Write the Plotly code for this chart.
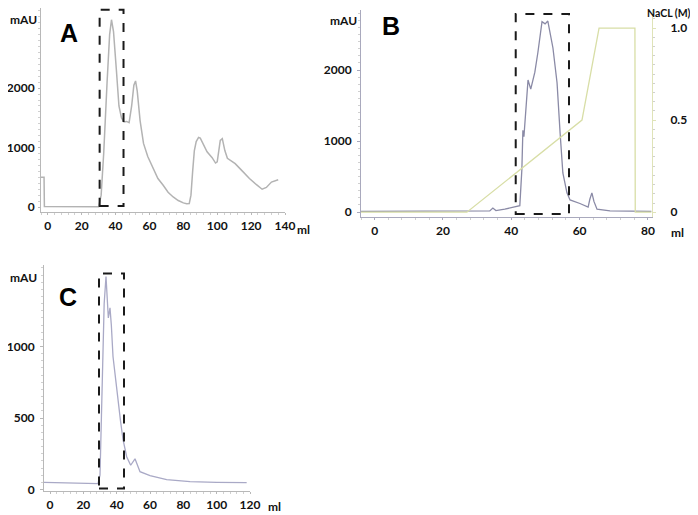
import plotly.graph_objects as go

# ---------------- Data ----------------
# Panel A (UV absorbance, mAU vs ml)
a_ml = [-4, -2.2, -2, 10, 20, 30, 31.5, 33, 35, 36.5, 37.6, 38.8, 40.5, 42, 43.5, 45, 46.5, 48,
        49.5, 50.8, 51.8, 52.8, 54.5, 56.5, 59, 62, 65, 68, 71, 74, 77, 80, 82, 83.5, 84.5, 85.5,
        86.5, 87.6, 89, 90, 91.5, 94, 97, 99, 100, 101, 101.8, 103, 104.5, 106, 108, 110.6, 115,
        119, 123, 126.5, 129, 132, 136]
a_mau = [500, 500, 10, 8, 5, 5, 200, 900, 2100, 2900, 3150, 2950, 2300, 1700, 1500, 1430, 1440, 1420,
         1700, 2050, 2120, 1950, 1450, 1070, 850, 670, 480, 370, 250, 170, 110, 70, 55, 60, 200, 600,
         950, 1100, 1170, 1160, 1080, 930, 830, 740, 760, 1000, 1120, 1150, 950, 820, 780, 730, 600,
         480, 380, 300, 330, 420, 460]
a_box = [30.6, 44.7, 17, 3317]  # x0, x1, y0, y1

# Panel B (UV + NaCl gradient)
b_ml = [-4, 29.3, 33.7, 34.6, 35.5, 38.1, 41.1, 42.5, 43.1, 43.4, 43.7, 44.3, 44.9, 45.7, 46.9, 47.8,
        49.0, 49.9, 50.7, 52.2, 53.4, 54.3, 55.1, 56.3, 57.2, 60.1, 62.5, 63.0, 63.6, 64.2, 65.1,
        68.9, 81]
b_mau = [10, 10, 15, 55, 20, 40, 70, 90, 600, 1150, 1060, 1400, 1860, 1730, 1970, 2250, 2680, 2650,
         2690, 2310, 1820, 1110, 550, 270, 170, 120, 70, 180, 270, 150, 40, 15, 10]
b_nacl_ml = [-4, 27, 60.7, 65.7, 76.2, 76.3, 81]
b_nacl = [0, 0, 0.5, 1.0, 1.0, 0, 0]
b_box = [41.3, 56.9, -28, 2790]

# Panel C
c_ml = [-3.6, 10, 20, 28.8, 30, 31, 32.5, 33.6, 34.3, 35, 36, 36.8, 37.8, 39.3, 40.8, 42.3, 43.8, 46,
        48.4, 51, 54, 60, 70, 84, 100, 118]
c_mau = [50, 48, 45, 42, 100, 600, 1300, 1490, 1350, 1200, 1270, 1150, 930, 770, 630, 480, 350, 230,
         170, 215, 125, 97, 70, 55, 50, 48]
c_box = [29.4, 44.4, 7, 1510]

a_ticks = [0, 20, 40, 60, 80, 100, 120, 140]
b_ticks = [0, 20, 40, 60, 80]
c_ticks = [0, 20, 40, 60, 80, 100, 120]

# ---------------- Figure ----------------
# page body has an 8px default margin, so the figure is sized to fit the window exactly
OFF = 8
W, H = 698 - OFF, 515 - OFF


def px_x(p):
    return (p - OFF) / W


def px_y(p):
    return 1 - (p - OFF) / H


tickfont = dict(family="Lato, 'Open Sans', sans-serif", size=12, color="#111", weight="bold")

fig = go.Figure()

fig.add_trace(go.Scatter(x=a_ml, y=a_mau, mode="lines", line=dict(color="#b3b3b3", width=1.5),
                         xaxis="x", yaxis="y", showlegend=False, hoverinfo="skip"))
fig.add_trace(go.Scatter(x=b_nacl_ml, y=b_nacl, mode="lines", line=dict(color="#d8dea6", width=1.3),
                         xaxis="x2", yaxis="y4", showlegend=False, hoverinfo="skip"))
fig.add_trace(go.Scatter(x=b_ml, y=b_mau, mode="lines", line=dict(color="#8a8aa6", width=1.3),
                         xaxis="x2", yaxis="y2", showlegend=False, hoverinfo="skip"))
fig.add_trace(go.Scatter(x=c_ml, y=c_mau, mode="lines", line=dict(color="#a9a9c6", width=1.3),
                         xaxis="x3", yaxis="y3", showlegend=False, hoverinfo="skip"))


def xaxis(dom, rng, ticks, anchor, color="#b8b8b8"):
    return dict(domain=dom, range=rng, anchor=anchor, showline=True, linecolor=color, linewidth=1,
                showgrid=False, zeroline=False, tickmode="array", tickvals=ticks, automargin=False,
                ticktext=[str(t) for t in ticks], ticks="outside", ticklen=2, tickcolor=color,
                tickfont=tickfont, ticklabelstandoff=1,
                minor=dict(ticks="outside", ticklen=2, dtick=4, tickcolor="#d0d0d0"))


def yaxis(dom, rng, ticks, texts, anchor, color="#b8b8b8", side="left", overlaying=None,
          minor_dtick=100, standoff=3, ticklen=3):
    d = dict(domain=dom, range=rng, anchor=anchor, showline=True, linecolor=color, linewidth=1,
             showgrid=False, zeroline=False, tickmode="array", tickvals=ticks, ticktext=texts,
             ticks="outside", ticklen=ticklen, tickcolor=color, tickfont=tickfont, side=side,
             ticklabelstandoff=standoff, automargin=False,
             minor=dict(ticks="outside", ticklen=2, dtick=minor_dtick, tickcolor="#d0d0d0"))
    if overlaying:
        d["overlaying"] = overlaying
    return d


fig.update_layout(
    width=W, height=H, margin=dict(l=0, r=0, t=0, b=0, pad=0, autoexpand=False),
    paper_bgcolor="white", plot_bgcolor="white",
    xaxis=xaxis([px_x(41), px_x(285)], [-4, 140], a_ticks, "y"),
    yaxis=yaxis([px_y(212), px_y(8)], [-83, 3317 + 30], [0, 1000, 2000], ["0", "1000", "2000"], "x",
                standoff=1, ticklen=2),
    xaxis2=xaxis([px_x(361), px_x(652)], [-4, 81.2], b_ticks, "y2", color="#a9a9bd"),
    yaxis2=yaxis([px_y(217), px_y(10)], [-70, 2845], [0, 1000, 2000], ["0", "1000", "2000"], "x2",
                 color="#a9a9bd"),
    yaxis4=yaxis([px_y(217), px_y(10)], [-0.026, 1.098], [0, 0.5, 1.0], ["0", "0.5", "1.0"], "x2",
                 color="#dfe3b8", side="right", overlaying="y2", minor_dtick=0.05, standoff=12),
    xaxis3=xaxis([px_x(44), px_x(250)], [-3.6, 120], c_ticks, "y3"),
    yaxis3=yaxis([px_y(491), px_y(265)], [-10, 1570], [0, 500, 1000], ["0", "500", "1000"], "x3",
                 minor_dtick=50),
)

box_line = dict(color="#1a1a1a", width=2, dash="dash")
for (x0, x1, y0, y1), xr, yr in [(a_box, "x", "y"), (b_box, "x2", "y2"), (c_box, "x3", "y3")]:
    fig.add_shape(type="rect", x0=x0, x1=x1, y0=y0, y1=y1, xref=xr, yref=yr, line=box_line,
                  fillcolor="rgba(0,0,0,0)")

labelfont = dict(family="Lato, 'Open Sans', sans-serif", size=12, color="#111", weight="bold")
letterfont = dict(family="Liberation Sans, Arial, sans-serif", size=25, color="#000", weight="bold")

annos = [
    ("mAU", 23, 19, labelfont, "center"),
    ("A", 69, 33, letterfont, "center"),
    ("ml", 303, 229, labelfont, "center"),
    ("mAU", 343, 20, labelfont, "center"),
    ("B", 391, 26, letterfont, "center"),
    ("NaCL (M)", 692, 13, dict(labelfont, size=10.5), "right"),
    ("ml", 677, 232, labelfont, "center"),
    ("mAU", 23, 277, labelfont, "center"),
    ("C", 68, 297, letterfont, "center"),
    ("ml", 274, 506, labelfont, "center"),
]
for txt, x, y, f, xa in annos:
    fig.add_annotation(text=txt, x=px_x(x), y=px_y(y), xref="paper", yref="paper", showarrow=False,
                       font=f, xanchor=xa, yanchor="middle", borderpad=0)

fig.write_html("out.html")
